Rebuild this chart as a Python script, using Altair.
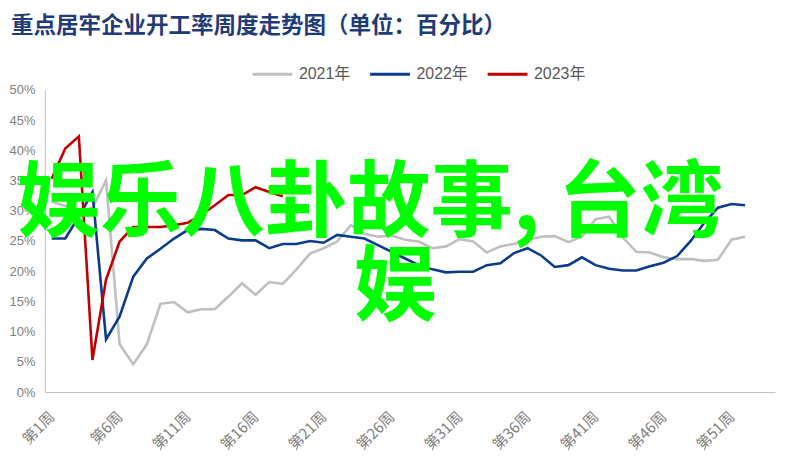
import altair as alt
import pandas as pd

# ---------------- data ----------------
weeks = list(range(1, 53))
series_names = ["2021年", "2022年", "2023年"]
series_colors = ["#BFBFBF", "#0B3C8C", "#C00000"]

v2021 = [31.5, 30.8, 29.8, 30.5, 35.0, 7.9, 4.6, 7.9, 14.6, 14.9,
         13.2, 13.7, 13.7, 15.8, 18.0, 16.1, 18.2, 17.9, 20.3, 22.9,
         23.8, 24.9, 27.6, 26.2, 25.7, 25.9, 25.2, 24.9, 23.8, 24.1,
         25.3, 24.9, 23.1, 24.1, 24.5, 25.2, 25.7, 25.8, 24.8, 25.7,
         28.6, 29.0, 25.6, 23.2, 23.1, 22.3, 22.0, 22.0, 21.7, 21.9,
         25.2, 25.7]
v2022 = [25.4, 25.4, 29.0, 33.1, 8.7, 12.5, 19.1, 22.1, 23.7, 25.4,
         26.8, 27.0, 26.8, 25.4, 25.1, 25.1, 23.8, 24.5, 24.5, 25.0,
         24.7, 26.0, 25.7, 25.4, 24.3, 23.2, 22.1, 21.0, 20.3, 19.8,
         19.9, 19.9, 21.0, 21.3, 23.0, 23.8, 22.6, 20.7, 21.0, 22.3,
         21.0, 20.4, 20.1, 20.1, 20.8, 21.4, 22.5, 25.0, 28.0, 30.5,
         31.1, 30.9]
v2023 = [35.3, 40.3, 42.3, 5.3, 18.6, 24.9, 27.3, 27.3, 27.3, 27.6,
         28.0, 29.3, 30.9, 32.6, 32.6, 33.9, 33.1, 32.4]

x_tick_weeks = [1, 6, 11, 16, 21, 26, 31, 36, 41, 46, 51]
y_ticks = [0, 5, 10, 15, 20, 25, 30, 35, 40, 45, 50]

title_text = "重点居牢企业开工率周度走势图（单位：百分比）"
overlay_1a = "娱乐八卦故事,"
overlay_1b = "台湾"
overlay_2 = "娱"

rows = []
for name, vals in zip(series_names, [v2021, v2022, v2023]):
    for w, v in zip(weeks, vals):
        rows.append({"week": w, "rate": v, "series": name})
df = pd.DataFrame(rows)

W = 733
H = 303.4
OX = 45.0   # plot origin x on the page
OY = 89.3   # plot origin y on the page

label_font = "Liberation Sans, Noto Sans CJK SC"

lines = alt.Chart(df).mark_line(strokeWidth=2.6).encode(
    x=alt.X("week:Q",
            scale=alt.Scale(domain=[0.5, 54.2], nice=False, zero=False),
            axis=alt.Axis(values=x_tick_weeks,
                          labelExpr="'第' + datum.value + '周'",
                          labelAngle=-45, labelAlign="right", labelBaseline="middle",
                          ticks=False, grid=False, title=None,
                          domainColor="#BFBFBF", domainWidth=1,
                          labelColor="#808080", labelFontSize=15,
                          labelFont="Noto Sans CJK SC", labelPadding=22,
                          labelOverlap=False)),
    y=alt.Y("rate:Q",
            scale=alt.Scale(domain=[0, 50], nice=False),
            axis=alt.Axis(values=y_ticks, labelExpr="datum.value + '%'",
                          ticks=False, grid=False, title=None,
                          domainColor="#BFBFBF", domainWidth=1,
                          labelColor="#808080", labelFontSize=13,
                          labelFont=label_font, labelPadding=10)),
    color=alt.Color("series:N",
                    scale=alt.Scale(domain=series_names, range=series_colors),
                    legend=alt.Legend(title=None, orient="none",
                                      legendX=252 - OX, legendY=72 - 20 - OY,
                                      direction="horizontal",
                                      symbolType="stroke", symbolSize=1600,
                                      symbolStrokeWidth=3,
                                      labelFontSize=16, labelColor="#595959",
                                      labelFont=label_font, labelOffset=5,
                                      columnPadding=13)),
)

title = alt.Chart(pd.DataFrame({"t": [title_text]})).mark_text(
    align="left", baseline="alphabetic", fontSize=22.6, fontWeight="bold",
    font="Noto Sans CJK SC", color="#1F3B78"
).encode(text="t:N", x=alt.value(11 - OX), y=alt.value(32 - OY))

green = dict(baseline="alphabetic", fontSize=83, fontWeight="bold",
             font="Noto Sans CJK SC", color="#00FF00")

o1a = alt.Chart(pd.DataFrame({"t": [overlay_1a]})).mark_text(align="left", **green).encode(
    text="t:N", x=alt.value(17 - OX), y=alt.value(230 - OY))
o1b = alt.Chart(pd.DataFrame({"t": [overlay_1b]})).mark_text(align="left", **green).encode(
    text="t:N", x=alt.value(560 - OX), y=alt.value(230 - OY))
o2 = alt.Chart(pd.DataFrame({"t": [overlay_2]})).mark_text(align="left", **green).encode(
    text="t:N", x=alt.value(355 - OX), y=alt.value(314 - OY))

chart = alt.layer(lines, title, o1a, o1b, o2).properties(
    width=W, height=H,
    autosize=alt.AutoSizeParams(type="none"),
    padding={"left": OX - 8, "top": OY - 8, "right": 10, "bottom": 60},
).configure_view(stroke=None)

chart.save("out.html", embed_options={"renderer": "svg", "actions": False})
